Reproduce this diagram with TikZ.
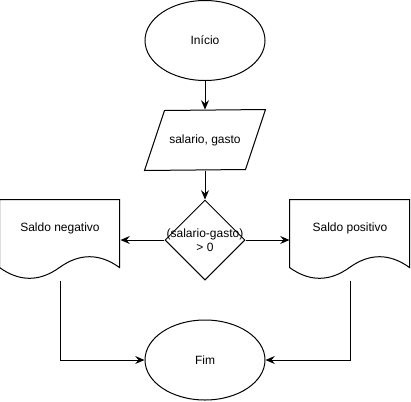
\documentclass[tikz,border=0pt]{standalone}
\usepackage{fontspec}
\setmainfont{Liberation Sans}
\usepackage{tikz}
\usetikzlibrary{shapes.geometric,arrows.meta}

\begin{document}
\begin{tikzpicture}[x=0.75pt,y=-0.75pt,line width=0.75pt,
    font=\fontsize{9}{10.5}\selectfont,
    >={Stealth[length=7pt,width=6pt,inset=2.5pt]},
    term_node/.style={ellipse,draw,inner sep=0pt,minimum width=90pt,minimum height=60pt},
    io_node/.style={rectangle,inner sep=0pt,minimum width=90pt,minimum height=45pt},
    dec_node/.style={diamond,draw,inner sep=0pt,minimum width=60pt,minimum height=60pt},
    doc_node/.style={rectangle,inner sep=0pt,minimum width=90pt,minimum height=60pt}]

    \useasboundingbox (0,0) rectangle (411,401);

    \node[term_node] (1) at (205, 40.5) {Início};
    \node[io_node] (2) at (205, 140) {salario, gasto};
    \node[dec_node,label={[align=center,inner sep=0pt]center:(salario-gasto)\\> 0}] (3) at (205, 240) {};
    \node[doc_node,label={[yshift=9pt]center:Saldo negativo}] (4) at (60, 240) {};
    \node[doc_node,label={[yshift=9pt]center:Saldo positivo}] (5) at (350, 240) {};
    \node[term_node] (6) at (205, 360) {Fim};

    % parallelogram and document outlines
    \draw (2.south west) -- ++(20,-60) -- (2.north east) -- ++(-20,60) -- cycle;
    \foreach \n in {4,5}
      \draw[shift={(\n.north west)}] (0,0) -- (120,0) -- (120,68)
        .. controls (100,53.6) and (80,53.6) .. (60,68)
        .. controls (40,82.4) and (20,82.4) .. (0,68) -- cycle;

    \draw[->] (1) -- (2);
    \draw[->] (2) -- (3);
    \draw[->] (3) -- (4);
    \draw[->] (3) -- (5);
    \draw[->] (4.south) |- (6);
    \draw[->] (5.south) |- (6);

\end{tikzpicture}
\end{document}
